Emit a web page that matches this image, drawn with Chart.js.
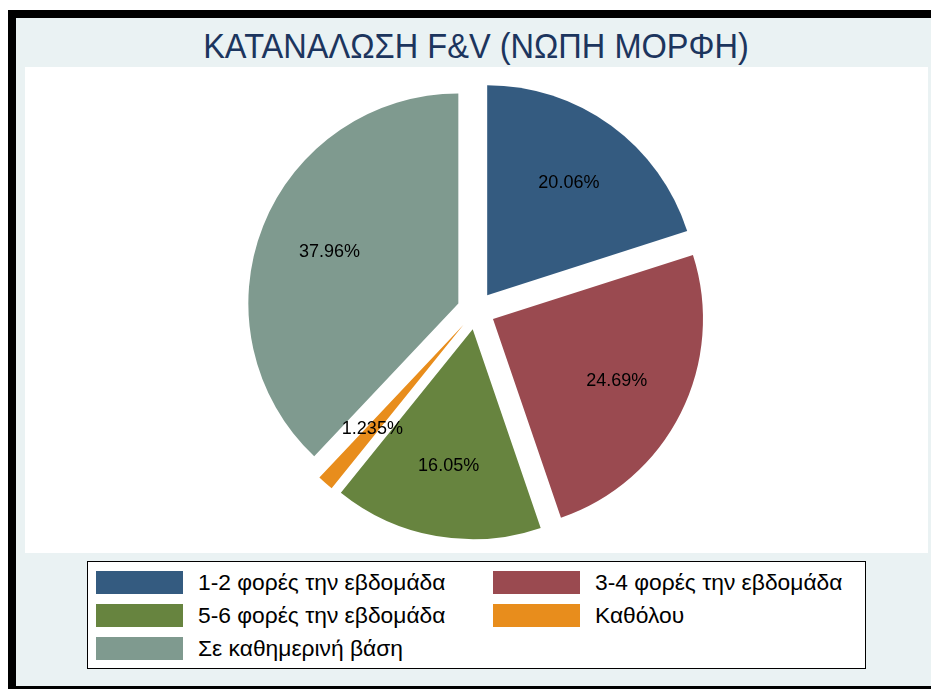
<!DOCTYPE html>
<html><head><meta charset="utf-8">
<script src="https://cdn.jsdelivr.net/npm/chart.js@4.4.1/dist/chart.umd.min.js"></script>
<style>
html,body{margin:0;padding:0;background:#fff;width:931px;height:689px;overflow:hidden;position:relative;}
#frame{position:absolute;left:8px;top:10px;width:1000px;height:668px;border-left:8px solid #000;border-top:8px solid #000;border-bottom:3px solid #000;background:#EAF2F3;}
#plot{position:absolute;left:25px;top:67px;width:903px;height:486px;background:#fff;}
#title{position:absolute;left:0;width:952px;top:28px;line-height:35px;text-align:center;font-family:"Liberation Sans",Arial,sans-serif;font-size:35px;color:#1C355E;white-space:nowrap;transform:scaleX(0.93);transform-origin:476px 0;}
#wrap{position:absolute;left:226px;top:60px;width:500px;height:501px;}
#legend{position:absolute;left:87px;top:561px;width:777px;height:106px;border:1px solid #000;background:#fff;font-family:"Liberation Sans",Arial,sans-serif;font-size:22.8px;color:#000;}
.sw{position:absolute;width:87px;height:23px;}
.lt{position:absolute;line-height:23px;white-space:nowrap;}
</style></head>
<body>
<div id="frame"></div>
<div id="plot"></div>
<div id="title">ΚΑΤΑΝΑΛΩΣΗ F&amp;V (ΝΩΠΗ ΜΟΡΦΗ)</div>
<div id="wrap"><canvas id="c" width="500" height="501"></canvas></div>
<div id="legend"></div>
<script>
const categories = ["1-2 φορές την εβδομάδα", "3-4 φορές την εβδομάδα", "5-6 φορές την εβδομάδα", "Καθόλου", "Σε καθημερινή βάση"];
const values = [20.06, 24.69, 16.05, 1.235, 37.96];
const colors = ["#345B80", "#9A4A50", "#67843F", "#E88D1C", "#7F9A8F"];

// HTML legend built from the arrays
const lg = document.getElementById('legend');
categories.forEach((name, i) => {
  const col = i % 2, row = Math.floor(i / 2);
  const sw = document.createElement('div');
  sw.className = 'sw';
  sw.style.left = (8 + col * 397) + 'px';
  sw.style.top = (9 + row * 33) + 'px';
  sw.style.background = colors[i];
  lg.appendChild(sw);
  const t = document.createElement('div');
  t.className = 'lt';
  t.style.left = (110 + col * 397) + 'px';
  t.style.top = (9 + row * 33) + 'px';
  t.textContent = name;
  lg.appendChild(t);
});

// keep every slice exploded by the same distance (no radius growth for narrow slices)
const evenExplode = {
  id: 'evenExplode',
  beforeDatasetDraw(chart, args) {
    args.meta.data.forEach(a => { a.circumference = Math.PI / 2; });
  }
};

const pctLabels = {
  id: 'pctLabels',
  afterDatasetsDraw(chart) {
    const meta = chart.getDatasetMeta(0);
    const c = chart.ctx;
    c.save();
    c.font = '18px "Liberation Sans", Arial, sans-serif';
    c.fillStyle = '#000';
    c.textAlign = 'center';
    c.textBaseline = 'middle';
    meta.data.forEach((arc, i) => {
      const p = arc.getProps(['x', 'y', 'startAngle', 'endAngle', 'outerRadius'], true);
      const mid = (p.startAngle + p.endAngle) / 2;
      const off = (arc.options.offset || 0) / 4;
      const d = off + p.outerRadius * 0.66;
      c.fillText(values[i] + '%', p.x + Math.cos(mid) * d, p.y + Math.sin(mid) * d);
    });
    c.restore();
  }
};

new Chart(document.getElementById('c'), {
  type: 'pie',
  data: {
    labels: categories,
    datasets: [{
      data: values,
      backgroundColor: colors,
      borderWidth: 0,
      offset: 76,
      hoverOffset: 0
    }]
  },
  options: {
    responsive: false,
    animation: false,
    events: [],
    radius: 210,
    layout: { padding: 0 },
    plugins: { legend: { display: false }, tooltip: { enabled: false }, title: { display: false } }
  },
  plugins: [evenExplode, pctLabels]
});
</script>
</body></html>
